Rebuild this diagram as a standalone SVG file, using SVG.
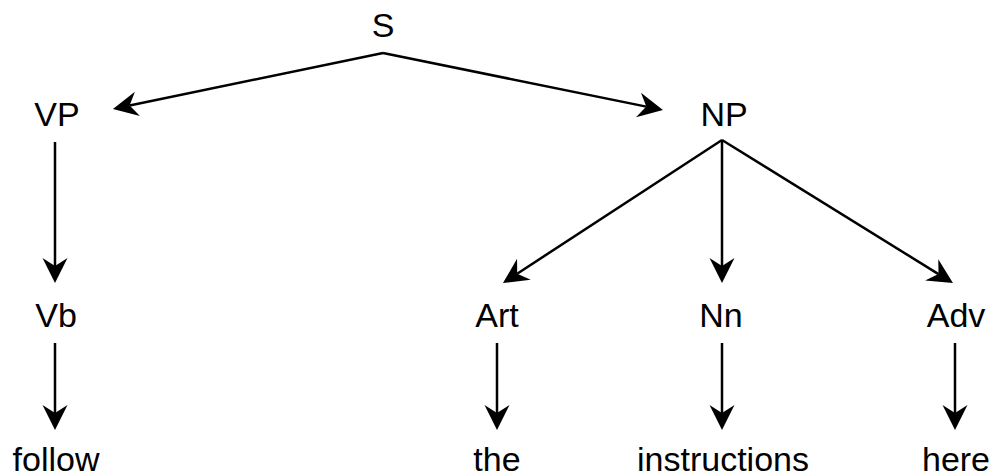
<svg xmlns="http://www.w3.org/2000/svg" width="1000" height="476" viewBox="0 0 1000 476">
<style>
text{font-family:"Liberation Sans",Arial,sans-serif;font-size:34px;fill:#000;text-anchor:middle}
.e{stroke:#000;stroke-width:2.5;fill:none;marker-end:url(#a)}
</style>
<defs>
<marker id="a" markerUnits="userSpaceOnUse" viewBox="-9 -14 28 28" markerWidth="28" markerHeight="28" refX="0" refY="0" orient="auto" overflow="visible">
<path d="M17,0 L-8,-12.5 L0,0 L-8,12.5 Z" fill="#000"/>
</marker>
</defs>
<rect width="1000" height="476" fill="#fff"/>
<g id="connectors">
<line class="e" x1="383" y1="53" x2="129.6" y2="105.5"/>
<line class="e" x1="383" y1="53" x2="646.3" y2="106.6"/>
<line class="e" x1="722" y1="140" x2="517.2" y2="273.7"/>
<line class="e" x1="722" y1="140" x2="722" y2="266"/>
<line class="e" x1="722" y1="140" x2="938.5" y2="274.1"/>
<line class="e" x1="55" y1="142" x2="55" y2="266"/>
<line class="e" x1="55" y1="343" x2="55" y2="413"/>
<line class="e" x1="497" y1="343" x2="497" y2="413"/>
<line class="e" x1="722" y1="343" x2="722" y2="413"/>
<line class="e" x1="955" y1="343" x2="955" y2="413"/>
</g>
<g id="S"><text x="383" y="37">S</text></g>
<g id="VP"><text x="57" y="126">VP</text></g>
<g id="NP"><text x="724" y="126">NP</text></g>
<g id="Vb"><text x="56" y="327">Vb</text></g>
<g id="Art"><text x="497" y="327">Art</text></g>
<g id="Nn"><text x="721" y="327">Nn</text></g>
<g id="Adv"><text x="956" y="327">Adv</text></g>
<g id="follow"><text x="56" y="471">follow</text></g>
<g id="the"><text x="497" y="471">the</text></g>
<g id="instructions"><text x="723" y="471">instructions</text></g>
<g id="here"><text x="956" y="471">here</text></g>
</svg>
